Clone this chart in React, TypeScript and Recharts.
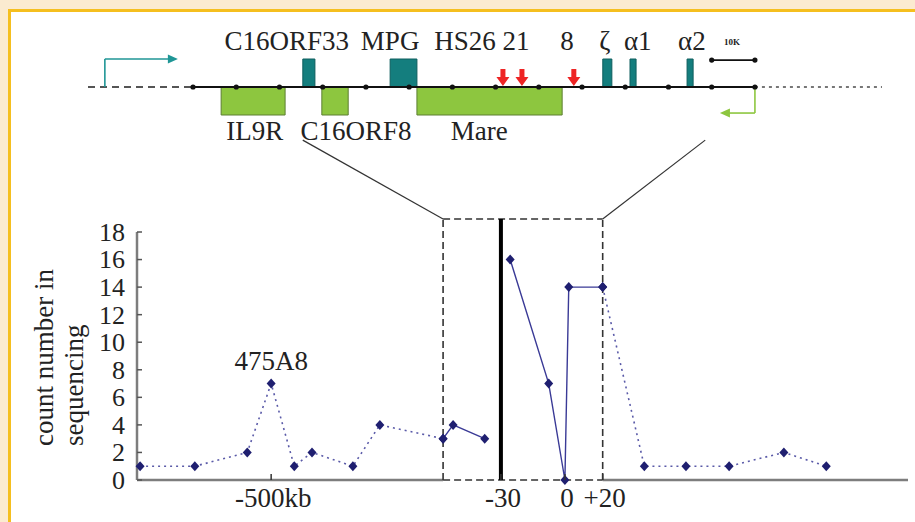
import React from "react";
import {
  ComposedChart,
  Line,
  XAxis,
  YAxis,
  ReferenceLine,
  ReferenceArea,
  ReferenceDot,
  Scatter,
} from "recharts";

const SERIF = '"Liberation Serif", "Times New Roman", serif';
const NAVY = "#1f1f70";
const LINE_DARK = "#3a3a96";
const LINE_LIGHT = "#5a5aa8";
const TEAL = "#147e7e";
const TEAL_ARROW = "#1f9696";
const GREEN = "#8dc63f";
const GREEN_EDGE = "#5d7f33";
const RED = "#ee2424";

// ---- locus map, positions in kb (0 = first marker on the line)
const markerKb = [0, 10, 20, 30, 40, 50, 60, 70, 80, 90, 100, 110, 120, 130];
const forwardGenes = [
  { from: 25.4, to: 28.2 },
  { from: 45.6, to: 51.8 },
  { from: 94.8, to: 96.9 },
  { from: 101.1, to: 102.5 },
  { from: 114.3, to: 115.7 },
];
const reverseGenes = [
  { from: 6.5, to: 21.3 },
  { from: 29.8, to: 35.9 },
  { from: 51.8, to: 85.4 },
];
const forwardLabels = [
  { name: "C16ORF33", kb: 21.7 },
  { name: "MPG", kb: 45.6 },
  { name: "HS26", kb: 62.9 },
  { name: "21", kb: 74.7 },
  { name: "8", kb: 86.5 },
  { name: "ζ", kb: 95.3 },
  { name: "α1", kb: 102.9 },
  { name: "α2", kb: 115.4 },
];
const reverseLabels = [
  { name: "IL9R", kb: 14.3 },
  { name: "C16ORF8", kb: 37.7 },
  { name: "Mare", kb: 66.2 },
];
const redArrowKb = [71.7, 76.1, 88.1];
const scaleBarKb = [120, 130];

// ---- sequencing counts (x = position along the plotted axis, 0..100)
const positions = [
  0.4, 7.5, 14.3, 17.4, 20.4, 22.7, 28.0, 31.5, 39.7, 41.0, 45.1, 48.4, 53.4,
  55.5, 56.0, 60.4, 65.8, 71.2, 76.8, 83.9, 89.4,
];
const counts = [1, 1, 2, 7, 1, 2, 1, 4, 3, 4, 3, 16, 7, 0, 14, 14, 1, 1, 1, 2, 1];
const dottedRuns = [
  [0, 8],
  [15, 20],
];
const solidRunA = [8, 10];
const solidRunB = [11, 15];
const yTicks = [0, 2, 4, 6, 8, 10, 12, 14, 16, 18];
const xTickValues = [17.4, 47.2, 55.5, 60.4];
const xTickLabels = ["-500kb", "-30", "0", "+20"];
const zoomWindow = [39.7, 60.4];
const sitePos = 47.2;
const annotations = [{ pos: 17.4, count: 7, text: "475A8" }];

const inRun = (i: number, run: number[]) => i >= run[0] && i <= run[1];

const rows = positions.map((pos, i) => ({
  pos,
  dotted: dottedRuns.some((r) => inRun(i, r)) ? counts[i] : null,
  solidA: inRun(i, solidRunA) ? counts[i] : null,
  solidB: inRun(i, solidRunB) ? counts[i] : null,
}));

const BOX_TOP = 18.94;
const LINK_TOP = 24.67;

const Diamond = (props: any) => {
  const { cx, cy, value } = props;
  if (cx == null || cy == null || value == null) return <g />;
  return (
    <path
      d={`M${cx} ${cy - 5}L${cx + 4.5} ${cy}L${cx} ${cy + 5}L${cx - 4.5} ${cy}Z`}
      fill={NAVY}
    />
  );
};

const YTick = (props: any) => {
  const { x, y, payload } = props;
  return (
    <g>
      <line x1={x + 12} x2={x + 17} y1={y} y2={y} stroke="#555" strokeWidth={1.5} />
      <text x={x} y={y} dy="0.34em" textAnchor="end" fontSize={26} fontFamily={SERIF} fill="#222">
        {payload.value}
      </text>
    </g>
  );
};

const XTick = (props: any) => {
  const { x, y, payload } = props;
  const label = xTickLabels[xTickValues.indexOf(payload.value)];
  return (
    <g>
      <line x1={x} x2={x} y1={y} y2={y - 6} stroke="#333" strokeWidth={1.5} />
      <text x={x + 2} y={y + 27} textAnchor="middle" fontSize={27} fontFamily={SERIF} fill="#222">
        {label}
      </text>
    </g>
  );
};

const YTitle = (props: any) => {
  const vb = props.viewBox || {};
  const sx = (vb.x ?? 0) + 53;
  const sy = (vb.y ?? 0) + (vb.height ?? 0) - 34;
  return (
    <text
      transform={`rotate(-90, ${sx}, ${sy})`}
      x={sx}
      y={sy}
      fontSize={27}
      fontFamily={SERIF}
      fill="#222"
    >
      <tspan x={sx} dy={0}>count number in</tspan>
      <tspan x={sx} dy={30}>sequencing</tspan>
    </text>
  );
};

const MapText = (size: number, bold = false) => (props: any) => (
  <text
    x={props.cx}
    y={props.cy}
    textAnchor="middle"
    fontSize={size}
    fontWeight={bold ? 700 : 400}
    fontFamily={SERIF}
    fill="#222"
  >
    {props.name}
  </text>
);

const MarkerDot = (props: any) => <circle cx={props.cx} cy={props.cy} r={2.6} fill="#111" />;

const RedArrow = (props: any) => {
  const { cx, cy } = props;
  return (
    <polygon
      points={`${cx - 2.5},${cy - 17} ${cx + 2.5},${cy - 17} ${cx + 2.5},${cy - 9} ${cx + 6.5},${cy - 9} ${cx},${cy} ${cx - 6.5},${cy - 9} ${cx - 2.5},${cy - 9}`}
      fill={RED}
    />
  );
};

const Head = (props: any) => {
  const { cx, cy, dir, color } = props;
  return (
    <polygon
      points={`${cx},${cy} ${cx - dir * 10},${cy - 4.5} ${cx - dir * 10},${cy + 4.5}`}
      fill={color}
    />
  );
};

const seg = (x1: number, y1: number, x2: number, y2: number) => [
  { x: x1, y: y1 },
  { x: x2, y: y2 },
];

const LocusMap = () => (
  <ComposedChart
    width={915}
    height={522}
    margin={{ top: 31, right: 33, bottom: 379, left: 88 }}
  >
    <XAxis type="number" dataKey="kb" domain={[-24.3, 159.4]} hide allowDataOverflow />
    <YAxis type="number" dataKey="y" domain={[-2, 2]} hide allowDataOverflow />
    {reverseGenes.map((g, i) => (
      <ReferenceArea
        key={`r${i}`}
        x1={g.from}
        x2={g.to}
        y1={-1}
        y2={0}
        fill={GREEN}
        fillOpacity={1}
        stroke={GREEN_EDGE}
        strokeWidth={1}
      />
    ))}
    {forwardGenes.map((g, i) => (
      <ReferenceArea
        key={`f${i}`}
        x1={g.from}
        x2={g.to}
        y1={0}
        y2={1}
        fill={TEAL}
        fillOpacity={1}
        stroke="#0e5e5e"
        strokeWidth={1}
      />
    ))}
    <ReferenceLine segment={seg(-24.3, 0, 0, 0)} stroke="#555" strokeWidth={2} strokeDasharray="7 5" />
    <ReferenceLine segment={seg(0, 0, 130, 0)} stroke="#111" strokeWidth={2} />
    <ReferenceLine segment={seg(130, 0, 159.4, 0)} stroke="#777" strokeWidth={2} strokeDasharray="3 4" />
    <ReferenceLine segment={seg(-20.4, 0, -20.4, 1)} stroke={TEAL_ARROW} strokeWidth={1.6} />
    <ReferenceLine segment={seg(-20.4, 1, -5, 1)} stroke={TEAL_ARROW} strokeWidth={1.6} />
    <ReferenceLine segment={seg(130, 0, 130, -0.93)} stroke={GREEN} strokeWidth={1.6} />
    <ReferenceLine segment={seg(130, -0.93, 123.5, -0.93)} stroke={GREEN} strokeWidth={1.6} />
    <ReferenceLine
      segment={seg(scaleBarKb[0], 0.96, scaleBarKb[1], 0.96)}
      stroke="#111"
      strokeWidth={1.6}
    />
    <Scatter
      data={markerKb.map((kb) => ({ kb, y: 0 }))}
      shape={MarkerDot}
      isAnimationActive={false}
    />
    <Scatter
      data={scaleBarKb.map((kb) => ({ kb, y: 0.96 }))}
      shape={MarkerDot}
      isAnimationActive={false}
    />
    <Scatter
      data={redArrowKb.map((kb) => ({ kb, y: 0.04 }))}
      shape={RedArrow}
      isAnimationActive={false}
    />
    <Scatter
      data={[
        { kb: -3.5, y: 1, dir: 1, color: TEAL_ARROW },
        { kb: 121.9, y: -0.93, dir: -1, color: GREEN },
      ]}
      shape={Head}
      isAnimationActive={false}
    />
    <Scatter
      data={forwardLabels.map((l) => ({ ...l, y: 1.32 }))}
      shape={MapText(27)}
      isAnimationActive={false}
    />
    <Scatter
      data={reverseLabels.map((l) => ({ ...l, y: -1.89 }))}
      shape={MapText(27)}
      isAnimationActive={false}
    />
    <Scatter
      data={[{ name: "10K", kb: 124.7, y: 1.5 }]}
      shape={MapText(9, true)}
      isAnimationActive={false}
    />
  </ComposedChart>
);

const CountsChart = () => (
  <ComposedChart
    width={915}
    height={522}
    data={rows}
    margin={{ top: 232, right: 7, bottom: 0, left: 0 }}
  >
    <XAxis
      type="number"
      dataKey="pos"
      domain={[0, 100]}
      ticks={xTickValues}
      interval={0}
      axisLine={false}
      tickLine={false}
      tickSize={0}
      tickMargin={0}
      tick={(p: any) => <XTick {...p} />}
      height={42}
    />
    <YAxis
      type="number"
      domain={[0, 18]}
      ticks={yTicks}
      interval={0}
      width={137}
      axisLine={{ stroke: "#7d7d7d", strokeWidth: 2.5 }}
      tickLine={false}
      tickSize={0}
      tickMargin={12}
      tick={(p: any) => <YTick {...p} />}
      label={(p: any) => <YTitle {...p} />}
    />
    <ReferenceLine segment={seg(0, 0, zoomWindow[0], 0)} stroke="#7d7d7d" strokeWidth={2.5} />
    <ReferenceLine segment={seg(zoomWindow[1], 0, 100, 0)} stroke="#7d7d7d" strokeWidth={2.5} />
    {[
      seg(zoomWindow[0], 0, zoomWindow[1], 0),
      seg(zoomWindow[0], BOX_TOP, zoomWindow[1], BOX_TOP),
      seg(zoomWindow[0], 0, zoomWindow[0], BOX_TOP),
      seg(zoomWindow[1], 0, zoomWindow[1], BOX_TOP),
    ].map((s, i) => (
      <ReferenceLine
        key={`box${i}`}
        segment={s}
        stroke="#333"
        strokeWidth={1.6}
        strokeDasharray="7 4"
        ifOverflow="visible"
      />
    ))}
    <ReferenceLine
      segment={seg(zoomWindow[0], BOX_TOP, 21.5, LINK_TOP)}
      stroke="#333"
      strokeWidth={1.2}
      ifOverflow="visible"
    />
    <ReferenceLine
      segment={seg(zoomWindow[1], BOX_TOP, 73.7, LINK_TOP)}
      stroke="#333"
      strokeWidth={1.2}
      ifOverflow="visible"
    />
    <ReferenceLine
      segment={seg(sitePos, 0, sitePos, BOX_TOP)}
      stroke="#000"
      strokeWidth={4}
      ifOverflow="visible"
    />
    <Line
      dataKey="dotted"
      stroke={LINE_LIGHT}
      strokeWidth={1.6}
      strokeDasharray="2 4"
      dot={Diamond}
      activeDot={false}
      connectNulls={false}
      isAnimationActive={false}
    />
    <Line
      dataKey="solidA"
      stroke={LINE_DARK}
      strokeWidth={1.4}
      dot={Diamond}
      activeDot={false}
      connectNulls={false}
      isAnimationActive={false}
    />
    <Line
      dataKey="solidB"
      stroke={LINE_DARK}
      strokeWidth={1.4}
      dot={Diamond}
      activeDot={false}
      connectNulls={false}
      isAnimationActive={false}
    />
    {annotations.map((a) => (
      <ReferenceDot
        key={a.text}
        x={a.pos}
        y={a.count}
        r={0}
        stroke="none"
        label={{
          value: a.text,
          position: "top",
          offset: 14,
          fontSize: 27,
          fontFamily: SERIF,
          fill: "#222",
        }}
      />
    ))}
  </ComposedChart>
);

export default function App() {
  return (
    <div
      style={{
        position: "absolute",
        left: 0,
        top: 0,
        width: 915,
        height: 522,
        overflow: "hidden",
        background: "#fbebd0",
      }}
    >
      <div
        style={{
          position: "absolute",
          left: 8,
          top: 9,
          width: 915,
          height: 522,
          background: "#fff",
          borderLeft: "3px solid #f5bf1f",
          borderTop: "3px solid #f5bf1f",
          boxSizing: "border-box",
        }}
      />
      <div style={{ position: "absolute", left: 0, top: 0 }}>
        <LocusMap />
      </div>
      <div style={{ position: "absolute", left: 0, top: 0 }}>
        <CountsChart />
      </div>
    </div>
  );
}
